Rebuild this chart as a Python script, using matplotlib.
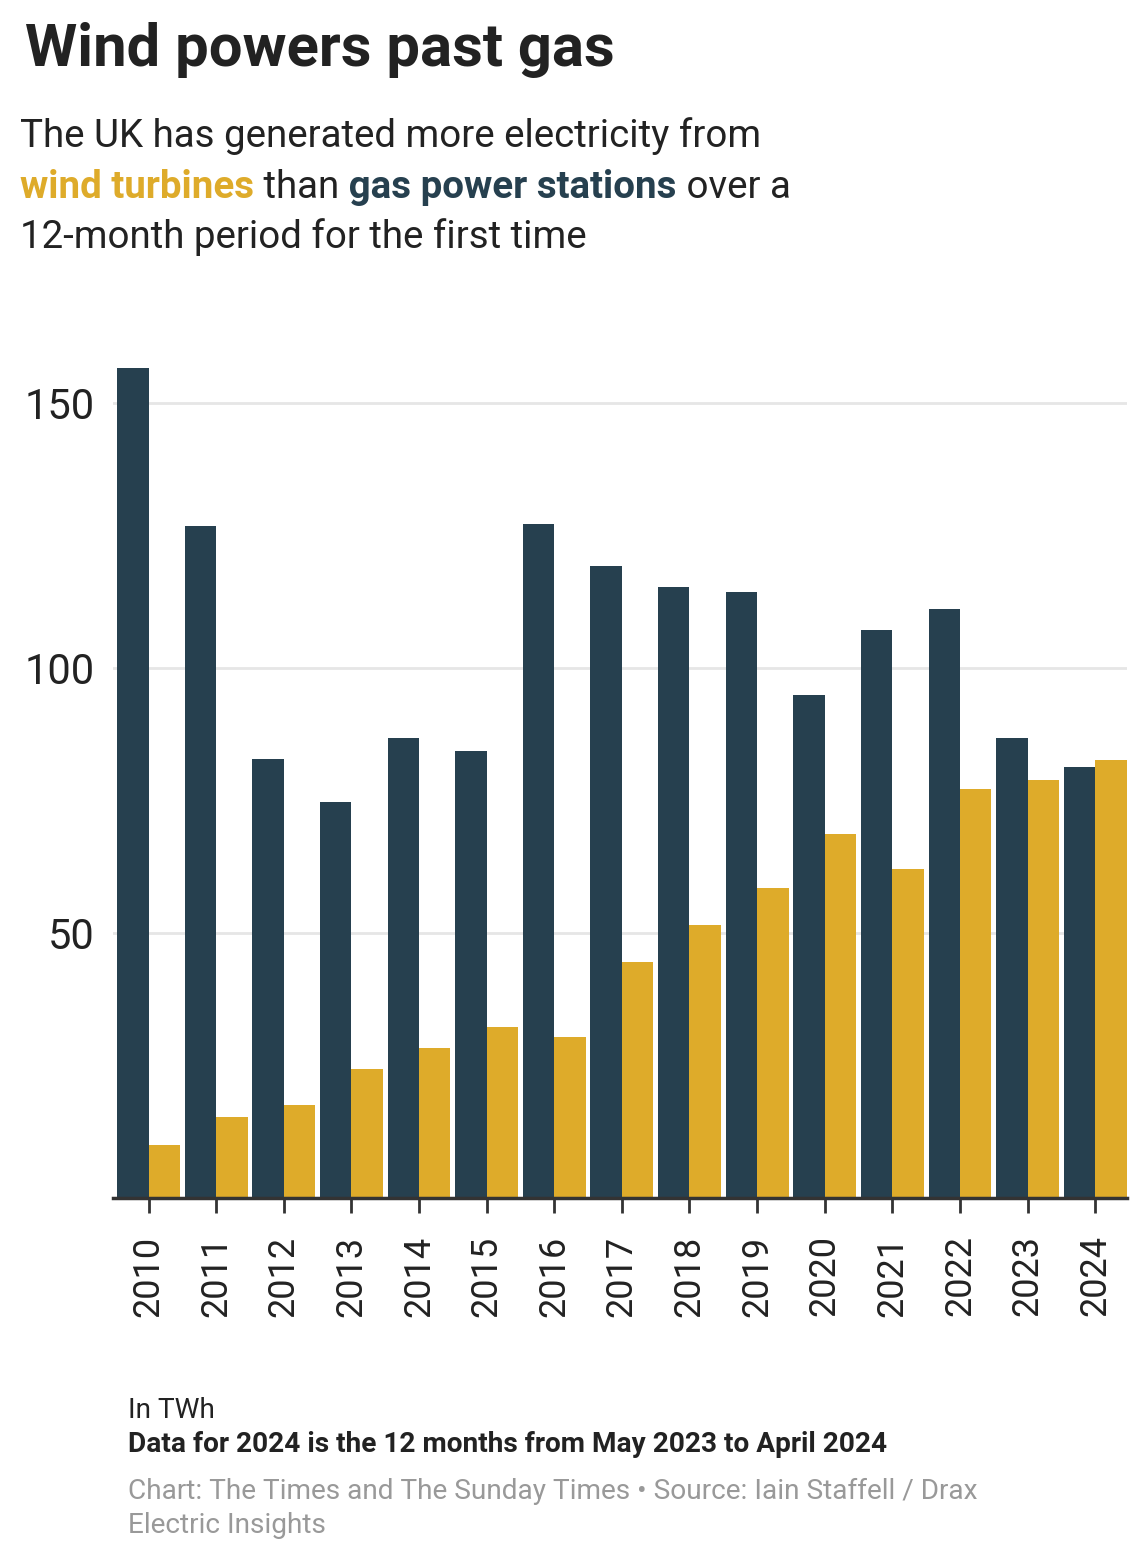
import numpy as np
import matplotlib.pyplot as plt

plt.rcParams['font.family'] = ['Roboto', 'DejaVu Sans']

years = ['2010', '2011', '2012', '2013', '2014', '2015', '2016', '2017',
         '2018', '2019', '2020', '2021', '2022', '2023', '2024']
gas = [156.6, 126.8, 82.9, 74.8, 86.8, 84.4, 127.2, 119.2,
       115.3, 114.4, 94.9, 107.2, 111.2, 86.8, 81.4]
wind = [10.0, 15.3, 17.5, 24.3, 28.3, 32.3, 30.4, 44.5,
        51.5, 58.5, 68.7, 62.1, 77.2, 78.9, 82.6]
yticks = [50, 100, 150]

GAS_C = '#26404F'
WIND_C = '#DEAB2A'
TEXT_C = '#222222'

W, H = 1146, 1560
fig = plt.figure(figsize=(W / 100, H / 100), dpi=100)
ax = fig.add_axes([113 / W, 1 - 1198 / H, (1127 - 113) / W, (1198 - 350) / H])

x = np.arange(len(years))
bw = 0.465
ax.bar(x - bw / 2, gas, bw, color=GAS_C, zorder=2)
ax.bar(x + bw / 2, wind, bw, color=WIND_C, zorder=2)

ax.set_xlim(-0.525, 14.47)
ax.set_ylim(0, 160)
ax.set_xticks(x)
ax.set_xticklabels(years, rotation=90, fontsize=26, color=TEXT_C)
ax.set_yticks(yticks)
ax.set_yticklabels([str(v) for v in yticks], fontsize=30, color=TEXT_C)
ax.tick_params(axis='y', length=0, pad=13)
ax.tick_params(axis='x', length=11, width=2, color='#333333', pad=16)
ax.grid(axis='y', color='#e6e6e6', linewidth=2, zorder=0)
for s in ['top', 'right', 'left']:
    ax.spines[s].set_visible(False)
ax.spines['bottom'].set_linewidth(2.5)
ax.spines['bottom'].set_color('#333333')
ax.spines['bottom'].set_zorder(3)


def fy(py):
    return 1 - py / H


fig.text(25 / W, fy(66), 'Wind powers past gas', fontsize=43, fontweight='bold',
         color=TEXT_C, va='baseline')

sub_size = 27.75
fig.text(20 / W, fy(147), 'The UK has generated more electricity from',
         fontsize=sub_size, color=TEXT_C, va='baseline')
renderer = fig.canvas.get_renderer()
parts = [('wind turbines', WIND_C, 'bold'),
         (' than', TEXT_C, 'normal'),
         (' gas power stations', GAS_C, 'bold'),
         (' over a', TEXT_C, 'normal')]
px = 20
for s, c, wgt in parts:
    t = fig.text(px / W, fy(198), s, fontsize=sub_size, color=c, fontweight=wgt,
                 va='baseline')
    px += t.get_window_extent(renderer).width
fig.text(20 / W, fy(248), '12-month period for the first time',
         fontsize=sub_size, color=TEXT_C, va='baseline')

foot = 20.2
fig.text(128 / W, fy(1418), 'In TWh', fontsize=foot, color=TEXT_C, va='baseline')
fig.text(128 / W, fy(1452), 'Data for 2024 is the 12 months from May 2023 to April 2024',
         fontsize=foot, fontweight='bold', color=TEXT_C, va='baseline')
fig.text(128 / W, fy(1499), 'Chart: The Times and The Sunday Times \u2022 Source: Iain Staffell / Drax',
         fontsize=foot, color='#999999', va='baseline')
fig.text(128 / W, fy(1533), 'Electric Insights', fontsize=foot, color='#999999', va='baseline')

fig.savefig('out.png', dpi=100, facecolor='white')
